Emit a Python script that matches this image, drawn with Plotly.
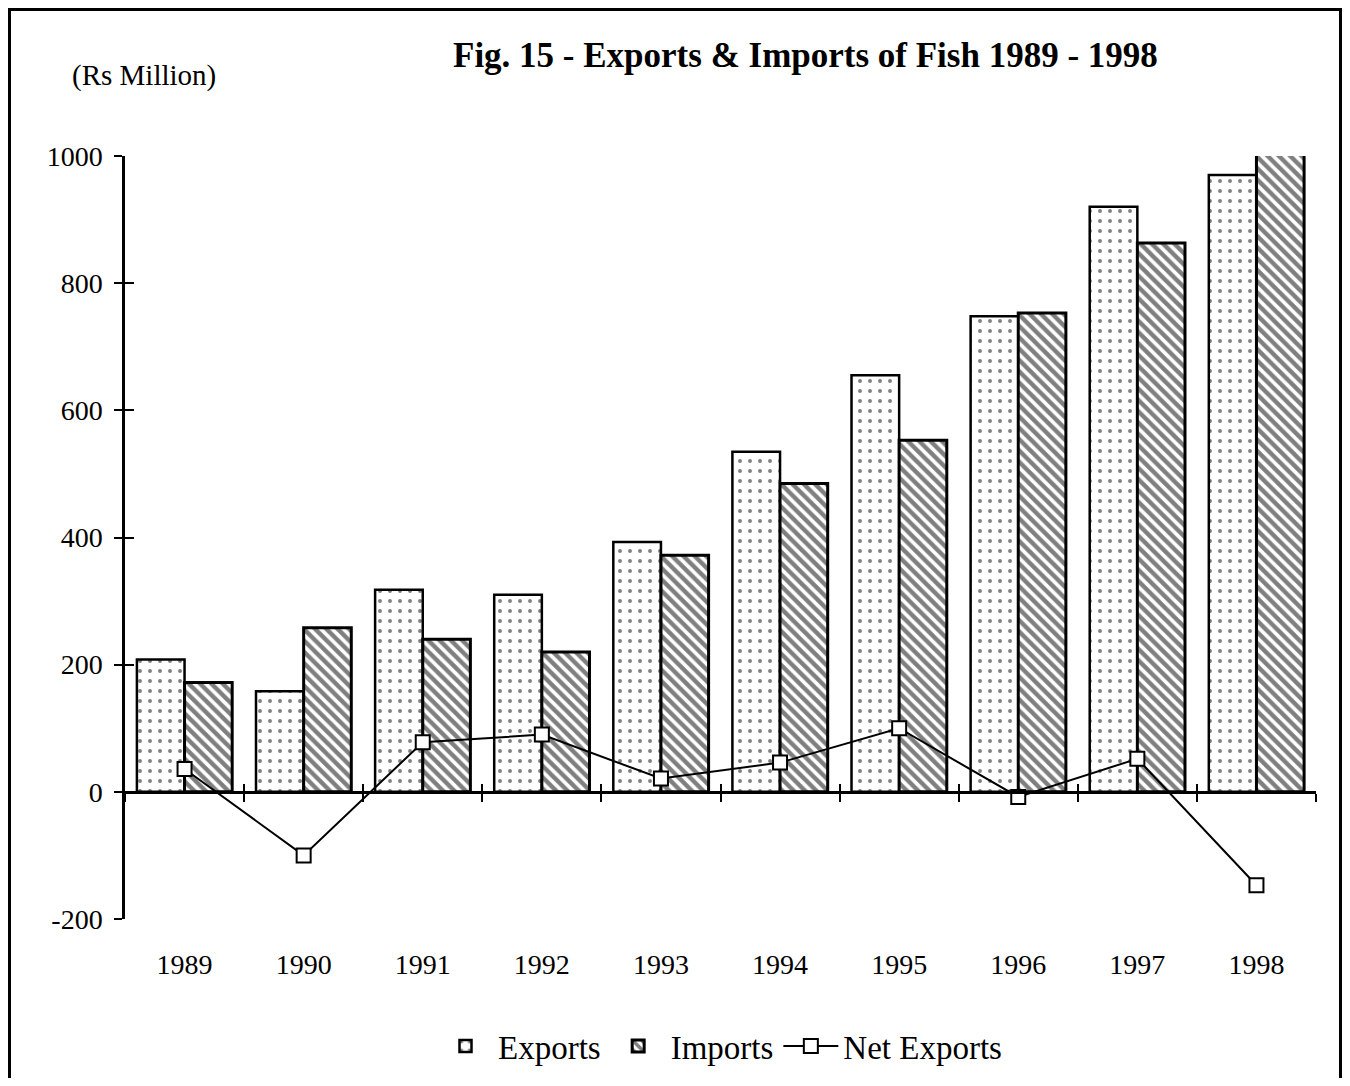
import plotly.graph_objects as go

years = ["1989", "1990", "1991", "1992", "1993", "1994", "1995", "1996", "1997", "1998"]
exports = [208, 158, 318, 310, 393, 535, 655, 748, 920, 970]
imports = [172, 258, 240, 220, 372, 485, 553, 753, 863, 1005]
net_exports = [36, -100, 78, 90, 21, 46, 100, -8, 52, -147]
y_ticks = [-200, 0, 200, 400, 600, 800, 1000]
y_tick_labels = ["-200", "0", "200", "400", "600", "800", "1000"]

FONT = "Liberation Serif, Times New Roman, serif"
# page has an 8px body margin, so the figure is placed at (8, 8)
W, H = 1334, 1070
L, R, T, B = 117, 26, 148, 159
YMIN, YMAX = -200, 1000
pw, ph = W - L - R, H - T - B


def px(x):
    return (x - L) / pw


def py(y):
    return (H - B - y) / ph


fig = go.Figure()
fig.add_bar(
    x=years, y=exports, name="Exports",
    marker=dict(color="white", line=dict(color="black", width=2.5),
                pattern=dict(shape=".", fgcolor="black", bgcolor="white", size=10, solidity=0.12)),
)
fig.add_bar(
    x=years, y=imports, name="Imports",
    marker=dict(color="white", line=dict(color="black", width=3),
                pattern=dict(shape="\\", fgcolor="black", bgcolor="white", size=8, solidity=0.55)),
)
fig.add_scatter(
    x=years, y=net_exports, name="Net Exports", mode="lines+markers",
    line=dict(color="black", width=2),
    marker=dict(symbol="square", size=14, color="white", line=dict(color="black", width=2)),
)
# helper (empty) traces so the overlay axes get drawn
for xa, ya in [("x2", "y"), ("x3", "y"), ("x", "y2")]:
    fig.add_scatter(x=years, y=[None] * len(years), xaxis=xa, yaxis=ya,
                    showlegend=False, hoverinfo="skip", mode="markers")

zero_pos = (0 - YMIN) / (YMAX - YMIN)
cat_axis = dict(type="category", categoryarray=years, categoryorder="array",
                range=[-0.5, len(years) - 0.5])

fig.update_layout(
    width=W, height=H,
    margin=dict(l=L, r=R, t=T, b=B, autoexpand=False),
    plot_bgcolor="white", paper_bgcolor="white",
    font=dict(family=FONT, color="black", size=28),
    barmode="group", bargap=0.2, bargroupgap=0,
    showlegend=True,
    legend=dict(orientation="h", x=px(712), xanchor="center",
                yref="container", y=1 - 1038 / H, yanchor="middle",
                font=dict(size=33, family=FONT), traceorder="normal", itemwidth=55),
    xaxis=dict(**cat_axis, showline=False, ticks="", showgrid=False, zeroline=False,
               tickfont=dict(size=28), ticklabelstandoff=26),
    xaxis2=dict(**cat_axis, overlaying="x", anchor="free", position=zero_pos,
                showline=True, linecolor="black", linewidth=2.5,
                ticks="outside", tickson="boundaries", ticklen=8, tickwidth=2, tickcolor="black",
                showticklabels=False, showgrid=False, zeroline=False),
    xaxis3=dict(**cat_axis, overlaying="x", anchor="free", position=zero_pos,
                showline=False, ticks="inside", tickson="boundaries", ticklen=8, tickwidth=2,
                tickcolor="black", showticklabels=False, showgrid=False, zeroline=False),
    yaxis=dict(range=[YMIN, YMAX], tickmode="array", tickvals=y_ticks, ticktext=y_tick_labels,
               showline=True, linecolor="black", linewidth=2.5,
               ticks="outside", ticklen=8, tickwidth=2, tickcolor="black",
               showgrid=False, zeroline=False, tickfont=dict(size=28), ticklabelstandoff=6),
    yaxis2=dict(range=[YMIN, YMAX], overlaying="y", tickmode="array", tickvals=y_ticks,
                showline=False, ticks="inside", ticklen=9, tickwidth=2, tickcolor="black",
                showticklabels=False, showgrid=False, zeroline=False),
    annotations=[
        dict(text="<b>Fig. 15 - Exports &amp; Imports of Fish 1989 - 1998</b>",
             x=px(797), y=py(47), xref="paper", yref="paper",
             xanchor="center", yanchor="middle", showarrow=False,
             font=dict(size=35, family=FONT)),
        dict(text="(Rs Million)", x=px(62), y=py(67), xref="paper", yref="paper",
             xanchor="left", yanchor="middle", showarrow=False,
             font=dict(size=29, family=FONT)),
    ],
    shapes=[
        dict(type="rect", xref="paper", yref="paper",
             x0=px(1.5), x1=px(W - 1.5), y0=py(H + 20), y1=py(1.5),
             line=dict(color="black", width=3), fillcolor="rgba(0,0,0,0)", layer="below"),
    ],
)

fig.write_html("out.html")
